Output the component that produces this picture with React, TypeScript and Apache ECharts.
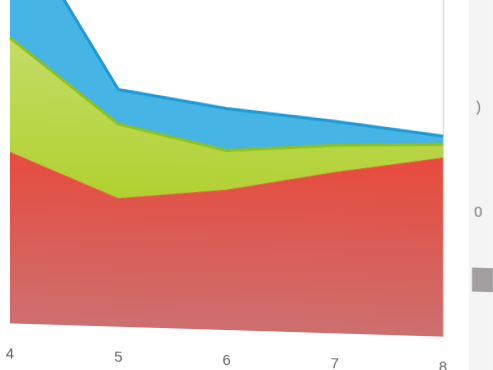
import React, { useEffect, useRef } from "react";
import * as echarts from "echarts";

const categories = ["4", "5", "6", "7", "8"];
const redValues = [16.3, 12.2, 13.3, 15.3, 17.0];
const greenValues = [10.9, 7.1, 3.8, 2.6, 1.3];
const blueValues = [12.1, 3.3, 4.0, 2.3, 0.8];
const sideLabels = [")", "0"];

export default function App() {
  const ref = useRef<HTMLDivElement>(null);
  useEffect(() => {
    if (!ref.current) return;
    const chart = echarts.init(ref.current, undefined, { renderer: "svg" });
    chart.setOption({
      animation: false,
      backgroundColor: "#ffffff",
      grid: { left: 10, right: 50, top: 20, bottom: 40, containLabel: false },
      xAxis: {
        type: "category",
        data: categories,
        boundaryGap: false,
        axisLine: { show: false },
        axisTick: { show: false },
        splitLine: { show: false },
        axisLabel: {
          margin: 22,
          fontSize: 15,
          color: "#666666",
          fontFamily: "Liberation Sans",
        },
      },
      yAxis: {
        type: "value",
        min: 0,
        max: 40,
        position: "right",
        splitLine: { show: false },
        axisTick: { show: false },
        axisLabel: { show: false },
        axisLine: { show: true, lineStyle: { color: "#cfcfcf", width: 1 } },
      },
      graphic: [
        {
          type: "rect",
          z: -1,
          shape: { x: 469, y: 100, width: 40, height: 400 },
          style: { fill: "#f5f4f4" },
        },
        {
          type: "rect",
          shape: { x: 472, y: 370, width: 30, height: 24 },
          style: { fill: "#a39ea0" },
        },
        {
          type: "text",
          x: 476,
          y: 201,
          style: {
            text: sideLabels[0],
            fontSize: 15,
            fill: "#7a7a7a",
            fontFamily: "Liberation Sans",
          },
        },
        {
          type: "text",
          x: 474,
          y: 306,
          style: {
            text: sideLabels[1],
            fontSize: 15,
            fill: "#7a7a7a",
            fontFamily: "Liberation Sans",
          },
        },
      ],
      series: [
        {
          name: "red",
          type: "line",
          stack: "total",
          data: redValues,
          symbol: "none",
          lineStyle: { width: 1, color: "#e8503f" },
          areaStyle: {
            opacity: 1,
            color: new echarts.graphic.LinearGradient(0, 0, 0, 1, [
              { offset: 0, color: "#e84a3c" },
              { offset: 1, color: "#cd6f6f" },
            ]),
          },
        },
        {
          name: "green",
          type: "line",
          stack: "total",
          data: greenValues,
          symbol: "none",
          lineStyle: { width: 3, color: "#8cc21f" },
          areaStyle: {
            opacity: 1,
            color: new echarts.graphic.LinearGradient(0, 0, 0, 1, [
              { offset: 0, color: "#c4dc66" },
              { offset: 1, color: "#b0d130" },
            ]),
          },
        },
        {
          name: "blue",
          type: "line",
          stack: "total",
          data: blueValues,
          symbol: "none",
          lineStyle: { width: 3, color: "#1c9ad6" },
          areaStyle: { opacity: 1, color: "#46b4e4" },
        },
      ],
    });
    return () => chart.dispose();
  }, []);
  return (
    <div
      style={{
        position: "fixed",
        left: 0,
        top: -110,
        width: 493,
        height: 480,
        transform: "skewY(1.75deg)",
        transformOrigin: "226px 440px",
      }}
    >
      <div ref={ref} style={{ width: 493, height: 480 }} />
    </div>
  );
}
